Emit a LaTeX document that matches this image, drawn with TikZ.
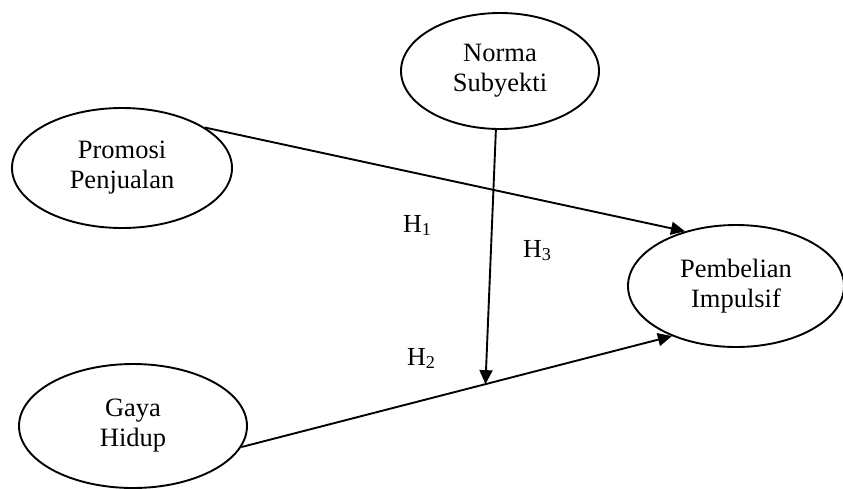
\documentclass[tikz,border=0pt]{standalone}
\usepackage{fontspec}
\setmainfont{Liberation Serif}
\usetikzlibrary{shapes.geometric,arrows.meta,calc}
\begin{document}
\begin{tikzpicture}[x=1pt,y=-1pt,
  construct/.style={draw,ellipse,line width=1.9pt,inner sep=0pt,align=center,
    font=\fontsize{26.5}{30}\selectfont},
  link/.style={line width=1.9pt,-{Triangle[length=14pt,width=13pt]}},
  hyp/.style={anchor=base west,inner sep=0pt,font=\fontsize{26}{30}\selectfont}]
\useasboundingbox (0,0) rectangle (843,488);
\node[construct,minimum width=220pt,minimum height=120pt] (promo) at (122,168) {Promosi\\Penjualan};
\node[construct,minimum width=198pt,minimum height=116pt] (norma) at (500,71) {Norma\\Subyekti};
\node[construct,minimum width=216pt,minimum height=122pt] (pemb) at (736,286) {Pembelian\\Impulsif};
\node[construct,minimum width=228pt,minimum height=124pt] (gaya) at (133,426) {Gaya\\Hidup};
\draw[link] (promo.26) -- (pemb.133);
\draw[link] (gaya.-11) -- (pemb.218);
\coordinate (mod) at ($(gaya.-11)!0.567!(pemb.218)$);
\draw[link] (norma.-94) -- (mod);
\node[hyp] (h1) at (403,232) {H\textsubscript{1}};
\node[hyp] (h3) at (523,257) {H\textsubscript{3}};
\node[hyp] (h2) at (407,365) {H\textsubscript{2}};
\end{tikzpicture}
\end{document}
